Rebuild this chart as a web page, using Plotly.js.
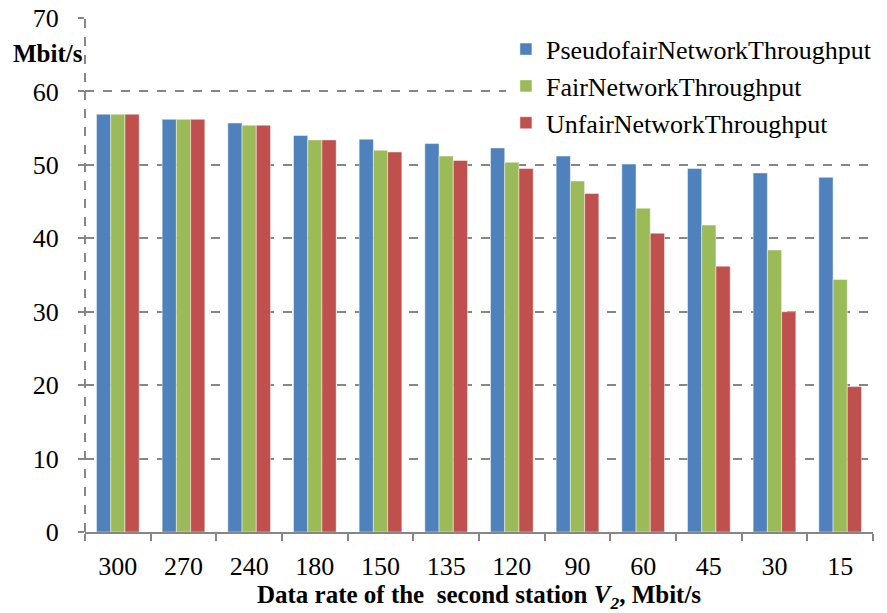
<!DOCTYPE html>
<html><head><meta charset="utf-8">
<script src="https://cdn.plot.ly/plotly-3.0.1.min.js"></script>
<style>html,body{margin:0;padding:0;background:#fff}#chart{width:887px;height:613px}</style>
</head><body><div id="chart"></div><pre id="out" style="display:none"></pre>
<script>
const categories = ["300","270","240","180","150","135","120","90","60","45","30","15"];
const pseudofair = [56.9,56.2,55.7,54.0,53.5,52.9,52.3,51.2,50.1,49.5,48.9,48.3];
const fair       = [56.9,56.2,55.4,53.4,52.0,51.2,50.35,47.8,44.1,41.8,38.4,34.4];
const unfair     = [56.9,56.2,55.4,53.4,51.75,50.6,49.5,46.1,40.7,36.2,30.0,19.8];
const seriesNames = ["PseudofairNetworkThroughput","FairNetworkThroughput","UnfairNetworkThroughput"];
const colors = ["#4F81BD","#9BBB59","#C0504D"];
const series = [pseudofair, fair, unfair];

const FF = "Liberation Serif";
const traces = series.map((v,i)=>({
  type:"bar", x:categories, y:v, name:seriesNames[i],
  marker:{color:colors[i], line:{color:"rgba(255,255,255,0.45)", width:1}}
}));

const layout = {
  width:887, height:613,
  margin:{l:85, r:10, t:18, b:81},
  paper_bgcolor:"#fff", plot_bgcolor:"#fff",
  barmode:"group", bargap:0.35, bargroupgap:0,
  font:{family:FF, color:"#000", size:24},
  showlegend:true,
  legend:{x:1.005, xanchor:"right", y:0.985, yanchor:"top", bgcolor:"#fff",
    font:{family:FF, size:26, color:"#000"}, tracegroupgap:0},
  xaxis:{type:"category", tickson:"boundaries", ticks:"outside", ticklen:7, tickwidth:1.5,
    tickcolor:"#868686", showline:true, linecolor:"#868686", linewidth:1.5,
    showgrid:false, ticklabelstandoff:10,
    tickfont:{family:FF, size:26, color:"#000"},
    title:{text:"<b>Data rate of the  second station <i>V<sub>2</sub></i>, Mbit/s</b>", font:{family:FF, size:25, color:"#000"}, standoff:6}},
  yaxis:{range:[0,70], dtick:10, tick0:0, showgrid:true, gridcolor:"#868686", griddash:"dash", gridwidth:2,
    showline:false, zeroline:false, ticks:"outside", ticklen:6, tickcolor:"#868686", tickwidth:1.5,
    ticklabelstandoff:14, tickfont:{family:FF, size:26, color:"#000"}},
  shapes:[{type:"line", xref:"paper", yref:"paper", x0:0, x1:0, y0:0, y1:1,
    line:{color:"#868686", width:2, dash:"dash"}}],
  annotations:[{text:"<b>Mbit/s</b>", xref:"paper", yref:"paper", x:0.0, y:0.93,
    xanchor:"right", yanchor:"middle", showarrow:false, font:{family:FF, size:25, color:"#000"}}]
};
Plotly.newPlot("chart", traces, layout, {displayModeBar:false}).then(()=>{
  const t=document.querySelectorAll("#chart text");
  let s="n="+t.length+"\n";
  t.forEach((e,i)=>{ if(i<3) s+=getComputedStyle(e).fontFamily+"\n";});
  document.getElementById("out").textContent=s;
});
</script></body></html>
